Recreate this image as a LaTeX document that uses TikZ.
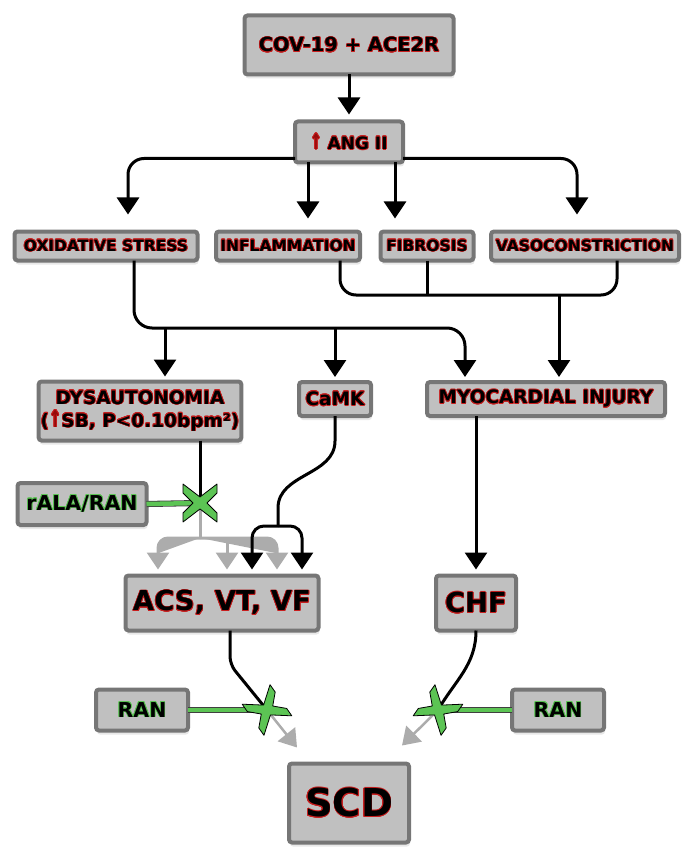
\documentclass[tikz,border=0pt]{standalone}
\usepackage{fontspec}
\setmainfont{DejaVu Sans}
\usepackage{contour}
\usetikzlibrary{arrows.meta,shadows}
\contourlength{0.7pt}
\definecolor{boxfill}{RGB}{192,192,192}
\definecolor{boxline}{RGB}{118,118,118}
\definecolor{arrgray}{RGB}{172,172,172}
\definecolor{xgreen}{RGB}{92,196,84}
\definecolor{txtred}{RGB}{200,30,30}
\definecolor{arrred}{RGB}{150,10,10}
\newcommand{\redtxt}[1]{\contour{txtred}{#1}}
\newcommand{\grntxt}[1]{\contour{xgreen}{#1}}
\newcommand{\uparr}{\textcolor{arrred}{\scalebox{0.8}[1.25]{↑}}}
\newcommand{\blockx}[2]{\filldraw[blockx, shift={(#1)}, rotate=#2]
  (-17,19) -- (0,6) -- (17,19) -- (17,10) -- (7,0) -- (17,-10) -- (17,-19)
  -- (0,-6) -- (-17,-19) -- (-17,-10) -- (-7,0) -- (-17,10) -- cycle;}

\begin{document}
\begin{tikzpicture}[x=1pt, y=1pt,
  box/.style={draw=boxline, line width=4pt, fill=boxfill, rounded corners=3pt,
    inner sep=2pt, outer sep=0pt, align=center,
    drop shadow={opacity=0.18, shadow xshift=1pt, shadow yshift=-4pt}},
  txtA/.style={font=\bfseries\fontsize{19.5}{23}\selectfont},
  txtB/.style={font=\bfseries\fontsize{15.5}{18}\selectfont},
  txtC/.style={font=\bfseries\fontsize{18.5}{23}\selectfont},
  txtD/.style={font=\bfseries\fontsize{27.5}{32}\selectfont},
  txtE/.style={font=\bfseries\fontsize{38.5}{44}\selectfont},
  txtR/.style={font=\bfseries\fontsize{20.5}{24}\selectfont},
  line/.style={draw=black, line width=3pt},
  arr/.style={line, -{Triangle[width=22pt,length=17pt]}, shorten >=5pt},
  grayline/.style={line, draw=arrgray},
  grayarr/.style={arr, draw=arrgray, fill=arrgray},
  greenline/.style={draw=black!75, line width=0.8pt, double=xgreen, double distance=4.5pt},
  blockx/.style={fill=xgreen, draw=black, line width=0.8pt, line join=round}]

\useasboundingbox (0,0) rectangle (683,-850);

\node[box, txtA, minimum width=209, minimum height=59] (cov) at (349,-45) {\redtxt{COV-19 + ACE2R}};
\node[box, font=\bfseries\fontsize{17}{20}\selectfont, minimum width=108, minimum height=41] (ang) at (349,-142) {\redtxt{\uparr\ ANG II}};

\node[box, txtB, minimum width=183, minimum height=29] (oxi) at (106,-246) {\redtxt{OXIDATIVE STRESS}};
\node[box, txtB, minimum width=144, minimum height=29] (infl) at (288,-246) {\redtxt{INFLAMMATION}};
\node[box, txtB, minimum width=93, minimum height=29] (fib) at (427,-246) {\redtxt{FIBROSIS}};
\node[box, txtB, minimum width=188, minimum height=29] (vaso) at (585,-246) {\redtxt{VASOCONSTRICTION}};

\node[box, txtC, minimum width=202, minimum height=59] (dys) at (140,-411) {\redtxt{DYSAUTONOMIA}\\\redtxt{(\uparr SB, P<0.10bpm²)}};
\node[box, txtC, minimum width=72, minimum height=34] (camk) at (335,-399) {\redtxt{CaMK}};
\node[box, txtC, minimum width=238, minimum height=34] (myo) at (546,-399) {\redtxt{MYOCARDIAL INJURY}};

\node[box, txtR, minimum width=129, minimum height=42] (rala) at (82,-504) {\grntxt{rALA/RAN}};

\node[box, txtD, minimum width=193, minimum height=55] (acs) at (222,-603) {\redtxt{ACS, VT, VF}};
\node[box, txtD, minimum width=80, minimum height=55] (chf) at (476,-603) {\redtxt{CHF}};

\node[box, txtR, minimum width=92, minimum height=41] (ranl) at (142,-710) {\grntxt{RAN}};
\node[box, txtR, minimum width=92, minimum height=41] (ranr) at (558,-710) {\grntxt{RAN}};

\node[box, txtE, minimum width=120, minimum height=79] (scd) at (349,-803) {\redtxt{SCD}};

\coordinate (obus) at (300,-328);
\coordinate (ibus) at (450,-295);
\coordinate (gbus) at (200,-538);
\coordinate (csplit) at (278,-526);
\coordinate (xdys) at (200,-503);
\coordinate (xacs) at (267,-710);
\coordinate (xchf) at (438,-710);

\draw[arr, shorten >=7pt] (cov.south) -- (ang.north);
\draw[arr, rounded corners=16pt, shorten >=17pt] ([yshift=4pt]ang.south west) -| ([xshift=22pt]oxi.north);
\draw[arr, rounded corners=16pt, shorten >=17pt] ([yshift=4pt]ang.south east) -| ([xshift=-8pt]vaso.north);
\draw[arr, shorten >=13pt] ([xshift=-41pt]ang.south) -- ([xshift=-41pt]ang.south |- infl.north);
\draw[arr, shorten >=13pt] ([xshift=46pt]ang.south) -- ([xshift=46pt]ang.south |- fib.north);

\draw[arr, rounded corners=18pt] ([xshift=28pt]oxi.south) |- (obus) -| ([xshift=-81pt]myo.north);
\draw[arr] ([xshift=25pt]dys.north |- obus) -- ([xshift=25pt]dys.north);
\draw[arr] (camk.north |- obus) -- (camk.north);
\draw[line, rounded corners=16pt] ([xshift=52pt]infl.south) |- (ibus) -| ([xshift=32pt]vaso.south);
\draw[line] (fib.south) -- (fib.south |- ibus);
\draw[arr] ([xshift=13pt]myo.north |- ibus) -- ([xshift=13pt]myo.north);

\draw[line] ([xshift=60pt]dys.south) -- (xdys);
\draw[greenline] (rala.east) -- (xdys);
\draw[grayline] (xdys) -- (gbus);
\draw[grayarr, rounded corners=10pt, shorten >=6pt] (gbus) -| ([xshift=-64pt]acs.north);
\draw[grayarr, rounded corners=10pt, shorten >=6pt] (gbus) -| ([xshift=55pt]acs.north);
\draw[grayarr, shorten >=6pt] ([xshift=5pt]acs.north |- gbus) -- ([xshift=5pt]acs.north);
\draw[line] (camk.south) -- ++(0,-25) to[out=-90, in=90] ([yshift=18pt]csplit) -- (csplit);
\draw[arr, rounded corners=12pt, shorten >=6pt] (csplit) -| ([xshift=30pt]acs.north);
\draw[arr, rounded corners=12pt, shorten >=6pt] (csplit) -| ([xshift=80pt]acs.north);

\draw[arr, shorten >=6pt] (chf.north |- myo.south) -- (chf.north);

\draw[line, rounded corners=8pt] ([xshift=8pt]acs.south) -- ++(0,-34) -- (xacs);
\draw[grayarr, line width=2.5pt, shorten >=0pt] (xacs) -- ([xshift=8pt,yshift=16pt]scd.north west);
\draw[greenline] (ranl.east) -- (xacs);
\draw[line] (chf.south) to[out=-90, in=60] (xchf);
\draw[grayarr, line width=2.5pt, shorten >=0pt] (xchf) -- ([xshift=-7pt,yshift=18pt]scd.north east);
\draw[greenline] (ranr.west) -- (xchf);

\blockx{xdys}{0}
\blockx{xacs}{35}
\blockx{xchf}{-35}
\end{tikzpicture}
\end{document}
